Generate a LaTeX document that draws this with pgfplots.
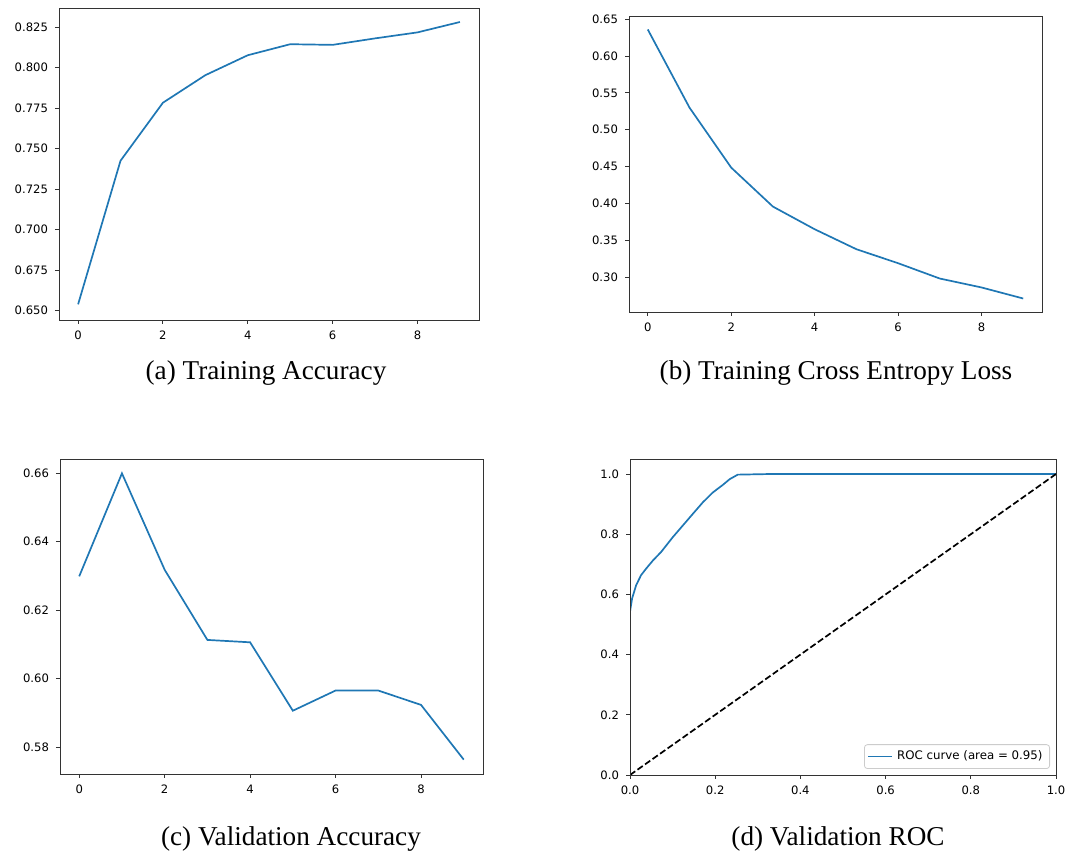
\documentclass[border=0pt]{standalone}
\usepackage{fontspec}
\setmainfont{Liberation Serif}
\newfontfamily\dejavu{DejaVu Sans}
\usepackage{pgfplots}
\pgfplotsset{compat=1.18}
\definecolor{mplblue}{HTML}{1F77B4}
\pgfplotsset{
  mplstyle/.style={
    scale only axis,
    axis line style={black!80, line width=0.45pt},
    tick align=outside,
    xtick pos=bottom, ytick pos=left,
    major tick length=2pt,
    tick style={black!80, line width=0.45pt},
    tick label style={font=\dejavu\fontsize{5.8}{7}\selectfont},
    /pgf/number format/assume math mode=true,
    every axis plot/.append style={line width=0.85pt},
    anchor=north west,
  },
  epochs/.style={
    xmin=-0.45, xmax=9.45,
    xtick={0,2,4,6,8},
    xticklabel style={/pgf/number format/fixed},
  }
}
\begin{document}
\begin{tikzpicture}
\useasboundingbox (0,0) rectangle (533.5pt,-427pt);

% (a) Training Accuracy
\begin{axis}[mplstyle, epochs, at={(29.5pt,-4pt)}, width=210pt, height=156pt,
  ymin=0.64425, ymax=0.83675,
  ytick={0.650,0.675,0.700,0.725,0.750,0.775,0.800,0.825},
  yticklabel style={/pgf/number format/.cd, fixed, fixed zerofill, precision=3}]
\addplot[mplblue] coordinates {
(0,0.6539) (1,0.7425) (2,0.7783) (3,0.7953) (4,0.8076)
(5,0.8144) (6,0.8140) (7,0.8180) (8,0.8217) (9,0.8281)};
\end{axis}

% (b) Training Cross Entropy Loss
\begin{axis}[mplstyle, epochs, at={(314.5pt,-8pt)}, width=206.5pt, height=148pt,
  ymin=0.2527, ymax=0.6543,
  ytick={0.30,0.35,0.40,0.45,0.50,0.55,0.60,0.65},
  yticklabel style={/pgf/number format/.cd, fixed, fixed zerofill, precision=2}]
\addplot[mplblue] coordinates {
(0,0.636) (1,0.530) (2,0.4486) (3,0.3957) (4,0.365)
(5,0.3379) (6,0.3189) (7,0.2981) (8,0.286) (9,0.271)};
\end{axis}

% (c) Validation Accuracy
\begin{axis}[mplstyle, epochs, at={(30pt,-229.5pt)}, width=211.5pt, height=157.5pt,
  ymin=0.5721, ymax=0.6642,
  ytick={0.58,0.60,0.62,0.64,0.66},
  yticklabel style={/pgf/number format/.cd, fixed, fixed zerofill, precision=2}]
\addplot[mplblue] coordinates {
(0,0.6299) (1,0.6600) (2,0.6318) (3,0.6113) (4,0.6106)
(5,0.5906) (6,0.5965) (7,0.5965) (8,0.5923) (9,0.5763)};
\end{axis}

% (d) Validation ROC
\begin{axis}[mplstyle, at={(315pt,-229.5pt)}, width=213pt, height=158pt,
  axis on top,
  xmin=0, xmax=1, ymin=0, ymax=1.05,
  xtick={0,0.2,0.4,0.6,0.8,1.0},
  ytick={0,0.2,0.4,0.6,0.8,1.0},
  xticklabel style={/pgf/number format/.cd, fixed, fixed zerofill, precision=1},
  yticklabel style={/pgf/number format/.cd, fixed, fixed zerofill, precision=1},
  legend style={at={(1,0)}, anchor=south east, xshift=-3pt, yshift=3pt,
    draw=black!20, rounded corners=1.5pt, fill=white,
    font=\dejavu\fontsize{5.9}{7}\selectfont,
    inner xsep=1.5pt, inner ysep=1pt},
  legend cell align=left,
  legend image code/.code={\draw[#1, line width=0.85pt] (0pt,0pt) -- (12pt,0pt);}]
\addplot[mplblue] coordinates {
(0,0) (0,0.5425) (0.005,0.587) (0.0145,0.631) (0.026,0.664) (0.038,0.686)
(0.054,0.713) (0.073,0.741) (0.1006,0.7905) (0.124,0.829) (0.1477,0.868)
(0.171,0.906) (0.1946,0.939) (0.218,0.964) (0.234,0.983) (0.253,0.998)
(0.326,1.0) (0.6,1.0) (1,1)};
\addlegendentry{ROC curve (area = 0.95)}
\addplot[black, dash pattern=on 3.2pt off 1.4pt, forget plot] coordinates {(0,0) (1,1)};
\end{axis}

% captions
\node[anchor=base, font=\fontsize{13.6}{16}\selectfont] at (133pt,-190pt) {(a) Training Accuracy};
\node[anchor=base, font=\fontsize{13.6}{16}\selectfont] at (418pt,-190pt) {(b) Training Cross Entropy Loss};
\node[anchor=base, font=\fontsize{13.6}{16}\selectfont] at (145.5pt,-423pt) {(c) Validation Accuracy};
\node[anchor=base, font=\fontsize{13.6}{16}\selectfont] at (419pt,-423pt) {(d) Validation ROC};
\end{tikzpicture}
\end{document}
